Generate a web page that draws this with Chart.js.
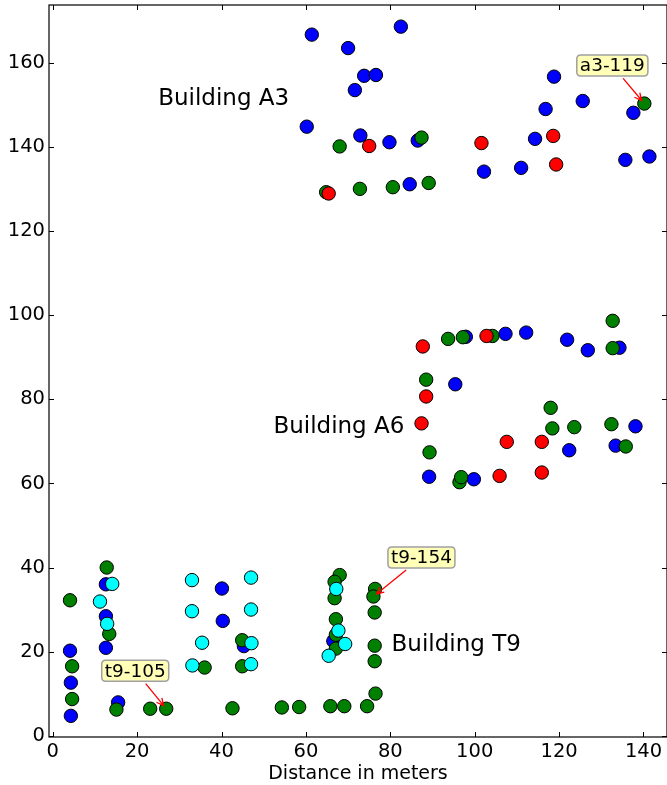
<!DOCTYPE html>
<html>
<head>
<meta charset="utf-8">
<script src="https://cdn.jsdelivr.net/npm/chart.js@4/dist/chart.umd.min.js"></script>
<style>
  html, body { margin: 0; padding: 0; background: #ffffff; }
  #wrap { width: 667px; height: 785px; }
</style>
</head>
<body>
<div id="wrap"><canvas id="chart" width="667" height="785"></canvas></div>
<script>
// Tick labels
const xTicks = [0, 20, 40, 60, 80, 100, 120, 140];
const yTicks = [0, 20, 40, 60, 80, 100, 120, 140, 160];

// Measured positions [distance x, distance y] in meters, one list per series
const bluePoints = [
  [61.4,166.8],[82.5,168.7],[70.0,163.6],[73.8,157.0],[76.6,157.2],[71.6,153.6],
  [60.2,144.9],[72.9,142.8],[79.8,141.2],[86.5,141.6],[84.6,131.2],[118.8,156.8],
  [125.6,151.0],[137.6,148.2],[116.8,149.1],[114.3,142.0],[102.2,134.2],[111.0,135.1],
  [135.7,137.0],[141.4,137.8],
  [97.9,94.9],[107.3,95.6],[112.2,95.9],[121.9,94.2],[126.8,91.7],[134.3,92.3],
  [95.4,83.6],[89.2,61.6],[99.8,61.0],[138.1,73.6],[122.4,67.9],[133.4,69.0],
  [12.6,36.0],[12.6,28.4],[12.6,20.9],[4.1,20.2],[4.3,12.6],[4.3,4.7],[15.5,7.9],
  [40.1,35.0],[40.3,27.3],[45.3,21.3],[66.5,22.5]
];
const greenPoints = [
  [68.0,140.2],[87.4,142.3],[64.8,129.3],[72.8,130.1],[80.6,130.5],[89.1,131.5],[140.2,150.4],
  [93.7,94.4],[97.2,94.8],[104.2,95.1],[88.5,84.7],[89.3,67.4],[96.4,60.3],[96.8,61.5],
  [118.0,78.0],[118.4,73.1],[132.7,98.7],[132.7,92.2],[123.6,73.4],[132.4,74.1],[135.8,68.8],
  [12.8,40.0],[4.1,32.2],[13.4,24.2],[4.6,16.5],[4.6,8.7],[15.1,6.2],[23.1,6.4],[26.9,6.4],
  [36.0,16.2],[44.9,22.7],[44.9,16.5],[42.6,6.5],[54.3,6.7],[58.4,6.8],[65.8,7.0],[69.1,7.0],
  [74.5,7.0],[76.5,10.0],[68.0,38.2],[66.8,36.6],[66.8,32.7],[67.1,27.7],[67.1,24.0],[67.1,20.7],
  [76.4,34.9],[76.0,33.1],[76.3,29.3],[76.3,21.4],[76.3,17.7]
];
const redPoints = [
  [75.0,140.3],[65.4,129.0],[118.6,142.7],[101.6,141.0],[119.3,135.9],
  [87.7,92.6],[102.8,95.1],[88.5,80.7],[87.4,74.3],[105.9,61.8],[107.6,69.9],[115.9,69.9],[115.9,62.6]
];
const cyanPoints = [
  [14.1,36.1],[11.2,31.9],[12.9,26.6],[33.0,37.0],[33.0,29.6],[35.4,22.1],[33.1,16.7],
  [47.0,37.6],[47.0,30.0],[47.1,22.0],[47.0,17.0],[67.2,34.9],[67.7,25.0],[69.3,21.8],[65.4,19.0]
];

// Building names and where they are written (data coordinates, left/baseline)
const buildingNames = ['Building A3', 'Building A6', 'Building T9'];
const buildingAnchors = [[25.0, 150.0], [52.3, 72.1], [80.3, 20.1]];

// Labelled points
const calloutNames = ['a3-119', 't9-105', 't9-154'];
const calloutTargets = [[140.2, 150.4], [26.9, 6.4], [76.0, 33.1]];

const FONT = "'DejaVu Sans', 'Liberation Sans', sans-serif";
const calloutOffsets = [[-32, -38], [-31, -38], [48, -39]];

const toXY = pts => pts.map(p => ({ x: p[0], y: p[1] }));

function drawArrow(ctx, x0, y0, x1, y1) {
  const ang = Math.atan2(y1 - y0, x1 - x0);
  const hl = 8, ha = 0.45;
  ctx.beginPath();
  ctx.moveTo(x0, y0);
  ctx.lineTo(x1, y1);
  ctx.moveTo(x1 - hl * Math.cos(ang - ha), y1 - hl * Math.sin(ang - ha));
  ctx.lineTo(x1, y1);
  ctx.lineTo(x1 - hl * Math.cos(ang + ha), y1 - hl * Math.sin(ang + ha));
  ctx.stroke();
}

function roundRect(ctx, x, y, w, h, r) {
  ctx.beginPath();
  ctx.moveTo(x + r, y);
  ctx.lineTo(x + w - r, y);
  ctx.quadraticCurveTo(x + w, y, x + w, y + r);
  ctx.lineTo(x + w, y + h - r);
  ctx.quadraticCurveTo(x + w, y + h, x + w - r, y + h);
  ctx.lineTo(x + r, y + h);
  ctx.quadraticCurveTo(x, y + h, x, y + h - r);
  ctx.lineTo(x, y + r);
  ctx.quadraticCurveTo(x, y, x + r, y);
  ctx.closePath();
}

const decorations = {
  id: 'decorations',
  afterDatasetsDraw(chart) {
    const { ctx, scales: { x, y } } = chart;
    ctx.save();
    // building names
    ctx.font = `23px ${FONT}`;
    ctx.fillStyle = '#000';
    ctx.textAlign = 'left';
    ctx.textBaseline = 'alphabetic';
    buildingNames.forEach((name, i) => {
      ctx.fillText(name, x.getPixelForValue(buildingAnchors[i][0]), y.getPixelForValue(buildingAnchors[i][1]));
    });
    // callouts with arrows
    ctx.font = `18.5px ${FONT}`;
    calloutNames.forEach((name, i) => {
      const tx = x.getPixelForValue(calloutTargets[i][0]);
      const ty = y.getPixelForValue(calloutTargets[i][1]);
      const cx = tx + calloutOffsets[i][0];
      const cy = ty + calloutOffsets[i][1];
      const w = ctx.measureText(name).width + 6;
      const h = 21;
      const dx = tx - cx, dy = ty - cy;
      const len = Math.hypot(dx, dy);
      const ux = dx / len, uy = dy / len;
      const t = Math.min((w / 2) / Math.abs(dx || 1e-9), (h / 2) / Math.abs(dy || 1e-9));
      const sx = cx + dx * t + ux * 3, sy = cy + dy * t + uy * 3;
      const ex = tx - ux * 4, ey = ty - uy * 4;
      ctx.strokeStyle = '#ff0000';
      ctx.lineWidth = 1.3;
      drawArrow(ctx, sx, sy, ex, ey);
      roundRect(ctx, cx - w / 2, cy - h / 2, w, h, 4);
      ctx.fillStyle = '#ffffb8';
      ctx.fill();
      ctx.strokeStyle = '#a0a0a0';
      ctx.lineWidth = 1.5;
      ctx.stroke();
      ctx.fillStyle = '#000';
      ctx.textAlign = 'center';
      ctx.textBaseline = 'middle';
      ctx.fillText(name, cx, cy + 1);
    });
    ctx.restore();
  },
  afterDraw(chart) {
    const { ctx, chartArea: a, scales: { x, y } } = chart;
    ctx.save();
    ctx.strokeStyle = '#000';
    ctx.lineWidth = 1.2;
    ctx.strokeRect(a.left, a.top, a.right - a.left, a.bottom - a.top);
    ctx.lineWidth = 1;
    const tl = 5;
    ctx.beginPath();
    xTicks.forEach(v => {
      const px = Math.round(x.getPixelForValue(v)) + 0.5;
      ctx.moveTo(px, a.bottom); ctx.lineTo(px, a.bottom - tl);
      ctx.moveTo(px, a.top); ctx.lineTo(px, a.top + tl);
    });
    yTicks.forEach(v => {
      const py = Math.round(y.getPixelForValue(v)) + 0.5;
      ctx.moveTo(a.left, py); ctx.lineTo(a.left + tl, py);
      ctx.moveTo(a.right, py); ctx.lineTo(a.right - tl, py);
    });
    ctx.stroke();
    ctx.restore();
  }
};

const tickFont = { family: FONT, size: 19.5 };

// Axis boxes get a fixed size and no extra label margins, so the plot frame stays put
function fixBox(size, key) {
  return s => {
    s[key] = size;
    s.paddingTop = 0; s.paddingBottom = 0; s.paddingLeft = 0; s.paddingRight = 0;
  };
}

new Chart(document.getElementById('chart').getContext('2d'), {
  type: 'scatter',
  data: {
    datasets: [
      { label: 'cyan', data: toXY(cyanPoints), backgroundColor: '#00ffff', order: 0 },
      { label: 'red', data: toXY(redPoints), backgroundColor: '#ff0000', order: 1 },
      { label: 'green', data: toXY(greenPoints), backgroundColor: '#008000', order: 2 },
      { label: 'blue', data: toXY(bluePoints), backgroundColor: '#0000ff', order: 3 }
    ]
  },
  options: {
    responsive: false,
    animation: false,
    devicePixelRatio: 1,
    layout: { autoPadding: false, padding: { top: 5, right: 0, left: 0, bottom: 0 } },
    plugins: { legend: { display: false }, tooltip: { enabled: false } },
    elements: { point: { radius: 6.7, hoverRadius: 6.7, borderWidth: 1, borderColor: '#000000' } },
    scales: {
      x: {
        type: 'linear', min: -0.88, max: 145.57,
        grid: { display: false, drawTicks: false },
        border: { display: false },
        ticks: { font: tickFont, color: '#000', padding: 3, maxRotation: 0, autoSkip: false, callback: v => String(v) },
        title: { display: true, text: 'Distance in meters', color: '#000', font: { family: FONT, size: 19 }, padding: { top: 0, bottom: 0 } },
        afterBuildTicks: s => { s.ticks = xTicks.map(v => ({ value: v })); },
        afterFit: fixBox(48, 'height')
      },
      y: {
        type: 'linear', min: -0.33, max: 173.85,
        grid: { display: false, drawTicks: false },
        border: { display: false },
        ticks: { font: tickFont, color: '#000', padding: 4, autoSkip: false, callback: v => String(v) },
        afterBuildTicks: s => { s.ticks = yTicks.map(v => ({ value: v })); },
        afterFit: fixBox(49, 'width')
      }
    }
  },
  plugins: [decorations]
});
</script>
</body>
</html>
